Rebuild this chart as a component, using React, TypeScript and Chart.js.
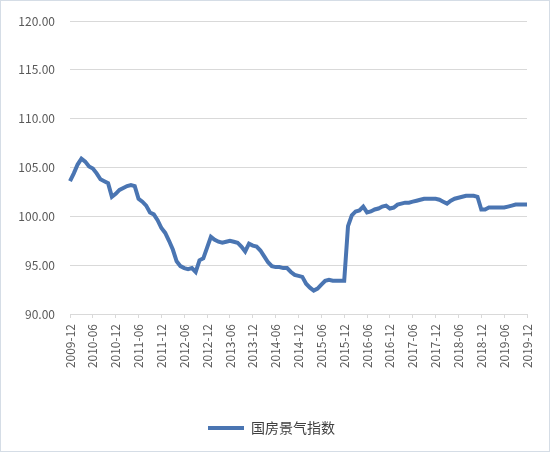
import { useEffect, useRef } from 'react';
import Chart from 'chart.js/auto';

// 国房景气指数, monthly, 2009-12 .. 2019-12
const v2009 = [103.6];
const v2010 = [104.4, 105.3, 105.9, 105.6, 105.1, 104.9, 104.4, 103.8, 103.6, 103.4, 102.0, 102.3];
const v2011 = [102.7, 102.9, 103.1, 103.2, 103.1, 101.8, 101.5, 101.1, 100.4, 100.2, 99.6, 98.8];
const v2012 = [98.3, 97.5, 96.6, 95.4, 94.9, 94.7, 94.6, 94.7, 94.3, 95.5, 95.7, 96.8];
const v2013 = [97.9, 97.6, 97.4, 97.3, 97.4, 97.5, 97.4, 97.3, 96.9, 96.4, 97.2, 97.0];
const v2014 = [96.9, 96.5, 95.9, 95.3, 94.9, 94.8, 94.8, 94.7, 94.7, 94.3, 94.0, 93.9];
const v2015 = [93.8, 93.1, 92.7, 92.4, 92.6, 93.0, 93.4, 93.5, 93.4, 93.4, 93.4, 93.4];
const v2016 = [99.0, 100.1, 100.5, 100.6, 101.0, 100.4, 100.5, 100.7, 100.8, 101.0, 101.1, 100.8];
const v2017 = [100.9, 101.2, 101.3, 101.4, 101.4, 101.5, 101.6, 101.7, 101.8, 101.8, 101.8, 101.8];
const v2018 = [101.7, 101.5, 101.3, 101.6, 101.8, 101.9, 102.0, 102.1, 102.1, 102.1, 102.0, 100.7];
const v2019 = [100.7, 100.9, 100.9, 100.9, 100.9, 100.9, 101.0, 101.1, 101.2, 101.2, 101.2, 101.2];

const values = [
  ...v2009, ...v2010, ...v2011, ...v2012, ...v2013, ...v2014,
  ...v2015, ...v2016, ...v2017, ...v2018, ...v2019,
];

const months: string[] = [];
for (let y = 2009; y <= 2019; y++) {
  for (let m = 1; m <= 12; m++) {
    if (y === 2009 && m < 12) continue;
    months.push(`${y}-${String(m).padStart(2, '0')}`);
  }
}

const seriesName = '国房景气指数';
const lineColor = '#4a75b2';
const gridColor = '#d9d9d9';
const textColor = '#595959';
const fontFamily = '"Noto Sans CJK SC", "Noto Sans", sans-serif';

export default function App() {
  const canvasRef = useRef<HTMLCanvasElement | null>(null);

  useEffect(() => {
    const canvas = canvasRef.current;
    if (!canvas) return;

    const chart = new Chart(canvas, {
      type: 'line',
      data: {
        labels: months,
        datasets: [
          {
            label: seriesName,
            data: values,
            borderColor: lineColor,
            backgroundColor: lineColor,
            borderWidth: 4,
            pointRadius: 0,
            tension: 0,
            fill: false,
          },
        ],
      },
      options: {
        responsive: false,
        animation: false,
        layout: { padding: { left: 16, right: 23, top: 6, bottom: 7 } },
        plugins: {
          tooltip: { enabled: false },
          legend: {
            position: 'bottom',
            labels: {
              color: '#404040',
              font: { family: fontFamily, size: 14 },
              boxWidth: 36,
              boxHeight: 4,
              padding: 10,
              generateLabels: (c) =>
                c.data.datasets.map((ds, i) => ({
                  text: ds.label as string,
                  fillStyle: lineColor,
                  strokeStyle: lineColor,
                  lineWidth: 0,
                  hidden: false,
                  datasetIndex: i,
                  fontColor: '#404040',
                })),
            },
          },
        },
        scales: {
          x: {
            offset: false,
            grid: {
              drawOnChartArea: false,
              drawTicks: true,
              tickLength: 4,
              color: gridColor,
            },
            border: { color: gridColor },
            ticks: {
              autoSkip: false,
              maxRotation: 90,
              minRotation: 90,
              padding: 6,
              color: textColor,
              font: { family: fontFamily, size: 12 },
              callback: (_v, i) => (i % 6 === 0 ? months[i] : null),
            },
            afterFit: (scale) => {
              scale.height = 97;
            },
          },
          y: {
            min: 90,
            max: 120,
            grid: { color: gridColor, drawTicks: false },
            border: { display: false },
            ticks: {
              stepSize: 5,
              padding: 15,
              color: textColor,
              font: { family: fontFamily, size: 12, lineHeight: 1 },
              callback: (v) => Number(v).toFixed(2),
            },
            afterFit: (scale) => {
              scale.width = 54;
            },
          },
        },
      },
    });

    return () => chart.destroy();
  }, []);

  return (
    <div style={{ position: 'fixed', left: 0, top: 0, width: 550, height: 452, background: '#fff' }}>
      <canvas ref={canvasRef} width={550} height={452} style={{ display: 'block' }} />
      <div
        style={{
          position: 'absolute',
          inset: 0,
          border: '1px solid #d5dde6',
          pointerEvents: 'none',
        }}
      />
    </div>
  );
}
